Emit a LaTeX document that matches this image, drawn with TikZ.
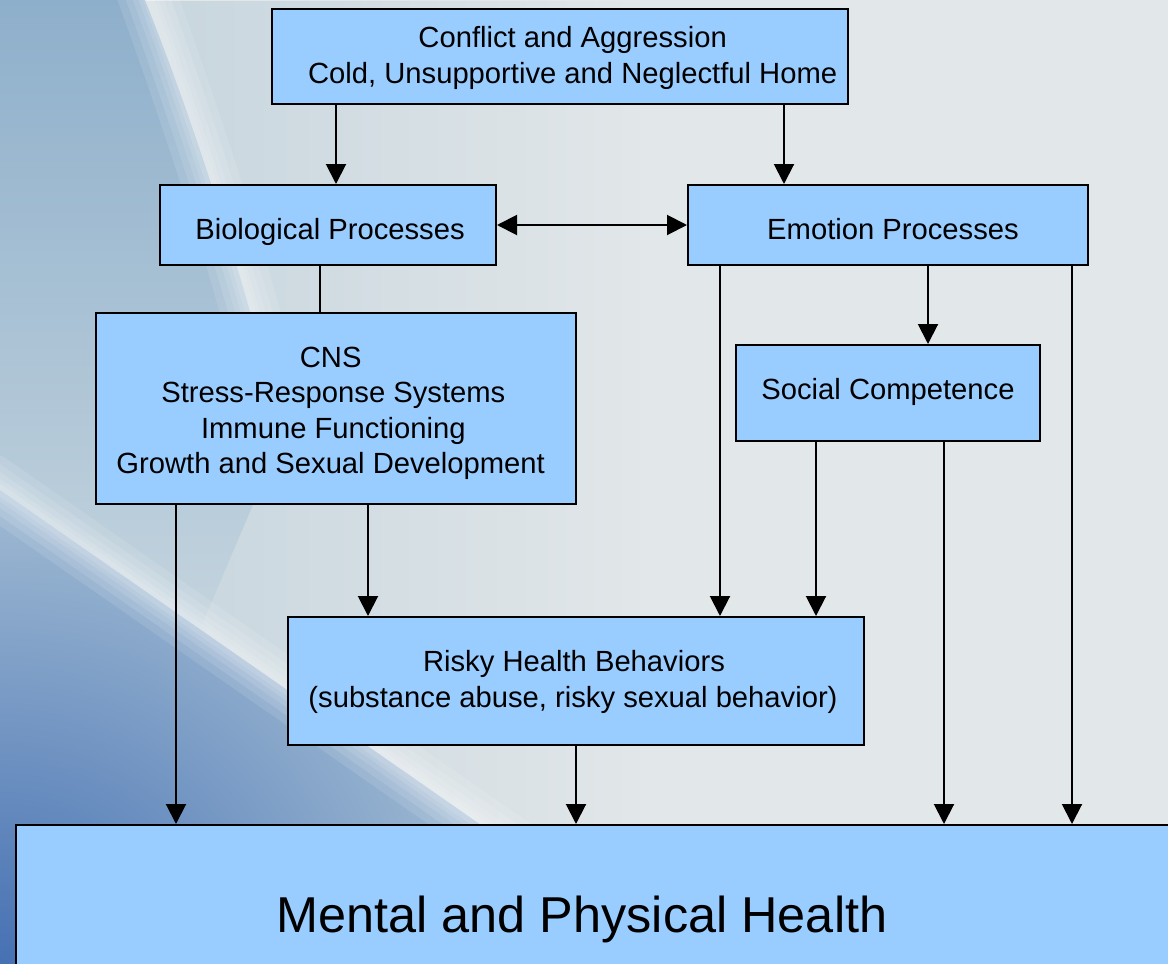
\documentclass[tikz,border=0pt]{standalone}
\usepackage{fontspec}
\setmainfont{Liberation Sans}
\usetikzlibrary{arrows.meta,fadings}
\definecolor{boxfill}{HTML}{99CCFF}
\definecolor{bgbase}{HTML}{E2E7E9}
\definecolor{bgtopL}{HTML}{8EAFCB}
\definecolor{bgmidL}{HTML}{C4D4DE}
\definecolor{bgmid}{HTML}{C6D5DE}
\definecolor{bglow}{HTML}{A3BDD4}
\definecolor{bgdark}{HTML}{4671B3}
\tikzfading[name=fadeRight, left color=transparent!0, right color=transparent!100]
\tikzfading[name=fadeRadial, inner color=transparent!0, outer color=transparent!100]
% shift text by (x,y) without changing its box
\newcommand\mv[3]{\hspace*{#1}\raisebox{#2}[\height][\depth]{#3}\hspace*{-#1}}
\begin{document}
\begin{tikzpicture}[x=0.75pt,y=-0.75pt,
  box/.style={draw=black, line width=1.5pt, fill=boxfill, inner sep=0pt, align=center,
    font=\fontsize{21.9}{26.6}\selectfont},
  bigbox/.style={box, font=\fontsize{37.8}{45}\selectfont},
  arr/.style={line width=1.5pt, -{Triangle[length=15pt,width=15pt]}},
  darr/.style={line width=1.5pt, {Triangle[length=15pt,width=15pt]}-{Triangle[length=15pt,width=15pt]}},
  link/.style={line width=1.5pt},
  streak/.style={white, line cap=round, opacity=0.11}]
\useasboundingbox (0,0) rectangle (1168,964);
% ---------- background ----------
\fill[bgbase] (0,0) rectangle (1168,964);
\fill[bgmid, path fading=fadeRight] (120,0) rectangle (640,900);
\shade[top color=bgtopL, bottom color=bgmidL]
  (0,0) -- (145,0) .. controls (185,100) and (225,220) .. (258,340) -- (255,500)
  -- (200,629) -- (0,490) -- cycle;
\fill[bglow] (0,490) -- (560,880) -- (560,964) -- (0,964) -- cycle;
\begin{scope}
  \clip (0,490) -- (560,880) -- (560,964) -- (0,964) -- cycle;
  \fill[bgdark, path fading=fadeRadial] (-520,480) rectangle (520,1448);
\end{scope}
\foreach \w in {44,32,22,14,8}{
  \draw[streak, line width=\w pt] (145,-10) .. controls (185,100) and (225,220) .. (258,340);
  \draw[streak, line width=\w pt] (-10,483) -- (560,880);
}

% ---------- boxes ----------
\node[box, minimum width=432pt, minimum height=71.25pt] (top) at (560,56.5)
  {\mv{9.5pt}{-1.1pt}{Conflict and Aggression}\\\mv{9.5pt}{-1.1pt}{Cold, Unsupportive and Neglectful Home}};
\node[box, minimum width=252pt, minimum height=60pt] (bio) at (328,225)
  {\mv{1.5pt}{-5.25pt}{Biological Processes}};
\node[box, minimum width=300pt, minimum height=60pt] (emo) at (888,225)
  {\mv{3.75pt}{-3pt}{Emotion Processes}};
\node[box, minimum width=360pt, minimum height=143.25pt] (cns) at (336,408.5)
  {\mv{-4pt}{-3.75pt}{CNS}\\\mv{-4pt}{-3.75pt}{Stress-Response Systems}\\
   \mv{-4pt}{-3.75pt}{Immune Functioning}\\\mv{-4pt}{-3.75pt}{Growth and Sexual Development}};
\node[box, minimum width=228pt, minimum height=72pt] (soc) at (888,393)
  {\mv{0pt}{0.75pt}{Social Competence}};
\node[box, minimum width=432pt, minimum height=96pt] (risky) at (576,681)
  {\mv{-1.5pt}{-0.75pt}{Risky Health Behaviors}\\\mv{-2.25pt}{-0.75pt}{(substance abuse, risky sexual behavior)}};
\node[bigbox, minimum width=873pt, minimum height=131.25pt] (health) at (598,912.5)
  {\mv{-12pt}{-5.25pt}{Mental and Physical Health}};

% ---------- x positions of connectors ----------
\coordinate (a) at (336,0);
\coordinate (b) at (784,0);
\coordinate (c) at (320,0);
\coordinate (d) at (928,0);
\coordinate (e) at (720,0);
\coordinate (f) at (1072,0);
\coordinate (g) at (816,0);
\coordinate (h) at (944,0);
\coordinate (i) at (368,0);
\coordinate (j) at (176,0);
\coordinate (k) at (576,0);

% ---------- connectors ----------
\draw[arr] (top.south -| a) -- (bio.north -| a);
\draw[arr] (top.south -| b) -- (emo.north -| b);
\draw[darr] (bio.east) -- (emo.west);
\draw[link] (bio.south -| c) -- (cns.north -| c);
\draw[arr] (emo.south -| d) -- (soc.north -| d);
\draw[arr] (emo.south -| e) -- (risky.north -| e);
\draw[arr] (emo.south -| f) -- (health.north -| f);
\draw[arr] (soc.south -| g) -- (risky.north -| g);
\draw[arr] (soc.south -| h) -- (health.north -| h);
\draw[arr] (cns.south -| i) -- (risky.north -| i);
\draw[arr] (cns.south -| j) -- (health.north -| j);
\draw[arr] (risky.south -| k) -- (health.north -| k);
\end{tikzpicture}
\end{document}
